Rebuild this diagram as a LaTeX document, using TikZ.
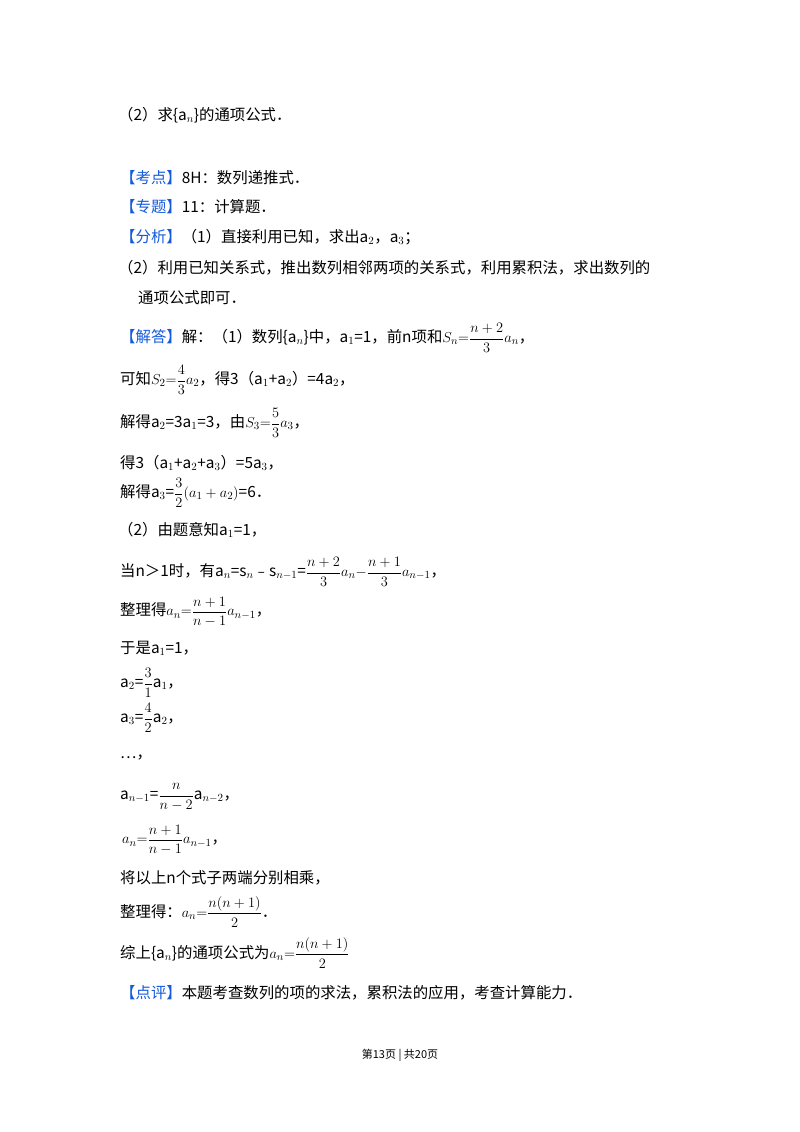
\documentclass[tikz,border=0pt]{standalone}
\usepackage{amsmath}
\usepackage{fontspec}
\setmainfont{Noto Sans CJK SC}
\definecolor{kblue}{RGB}{20,90,220}
\tikzset{ln/.style={anchor=west,inner sep=0pt,font=\fontsize{15.4}{18}\selectfont},
 tag/.style={text=kblue}}
\newcommand{\bt}[1]{\textcolor{kblue}{【#1】}}
\newcommand{\va}[1]{a$_{#1}$}
\begin{document}
\begin{tikzpicture}[x=1pt,y=-1pt]
\fill[white] (0,0) rectangle (800,1132);
\node[ln] (l1) at (118,115) {（2）求\{\va{n}\}的通项公式．};
\node[ln] (l2) at (120,178) {\bt{考点}8H：数列递推式．};
\node[ln] (l3) at (120,207) {\bt{专题}11：计算题．};
\node[ln] (l4) at (120,237) {\bt{分析}（1）直接利用已知，求出\va{2}，\va{3}；};
\node[ln] (l5) at (118,268) {（2）利用已知关系式，推出数列相邻两项的关系式，利用累积法，求出数列的};
\node[ln] (l6) at (138,298) {通项公式即可．};
\node[ln] (l7) at (120,338) {\bt{解答}解：（1）数列\{\va{n}\}中，\va{1}=1，前n项和$S_n{=}\dfrac{n+2}{3}a_n$，};
\node[ln] (l8) at (120,380) {可知$S_2{=}\dfrac{4}{3}a_2$，得3（\va{1}+\va{2}）=4\va{2}，};
\node[ln] (l9) at (120,423) {解得\va{2}=3\va{1}=3，由$S_3{=}\dfrac{5}{3}a_3$，};
\node[ln] (l10) at (120,463) {得3（\va{1}+\va{2}+\va{3}）=5\va{3}，};
\node[ln] (l11) at (120,493) {解得\va{3}=$\dfrac{3}{2}(a_1+a_2)$=6．};
\node[ln] (l12) at (118,530) {（2）由题意知\va{1}=1，};
\node[ln] (l13) at (120,572) {当n＞1时，有\va{n}=s$_n$﹣s$_{n-1}$=$\dfrac{n+2}{3}a_n{-}\dfrac{n+1}{3}a_{n-1}$，};
\node[ln] (l14) at (120,612) {整理得$a_n{=}\dfrac{n+1}{n-1}a_{n-1}$，};
\node[ln] (l15) at (120,648) {于是\va{1}=1，};
\node[ln] (l16) at (120,683) {\va{2}=$\dfrac{3}{1}$\va{1}，};
\node[ln] (l17) at (120,718) {\va{3}=$\dfrac{4}{2}$\va{2}，};
\node[ln] (l18) at (120,758) {…，};
\node[ln] (l19) at (120,797) {\va{n-1}=$\dfrac{n}{n-2}$\va{n-2}，};
\node[ln] (l20) at (122,840) {$a_n{=}\dfrac{n+1}{n-1}a_{n-1}$，};
\node[ln] (l21) at (120,878) {将以上n个式子两端分别相乘，};
\node[ln] (l22) at (120,912) {整理得：$a_n{=}\dfrac{n(n+1)}{2}$．};
\node[ln] (l23) at (120,953) {综上\{\va{n}\}的通项公式为$a_n{=}\dfrac{n(n+1)}{2}$};
\node[ln] (l24) at (120,993) {\bt{点评}本题考查数列的项的求法，累积法的应用，考查计算能力．};
\node[anchor=center,inner sep=0pt,font=\fontsize{11}{13}\selectfont] (ft) at (400,1055) {第13页 | 共20页};
\end{tikzpicture}
\end{document}
